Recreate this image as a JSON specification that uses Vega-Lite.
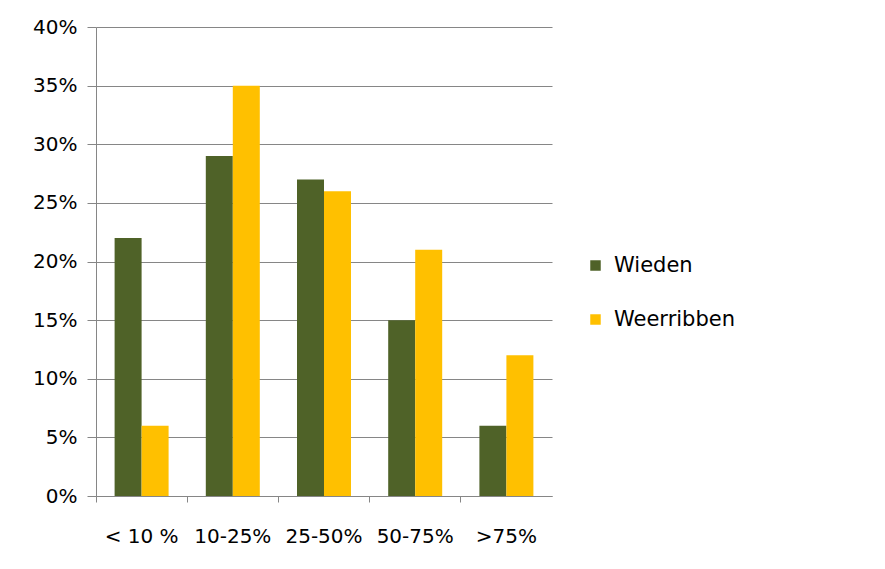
{
  "$schema": "https://vega.github.io/schema/vega-lite/v6.json",
  "width": 456,
  "height": 469,
  "autosize": {"type": "none"},
  "padding": {"left": 96, "top": 27, "right": 333, "bottom": 73},
  "background": "white",
  "data": {
    "values": [
      {"klasse": "< 10 %", "gebied": "Wieden", "aandeel": 0.22},
      {"klasse": "< 10 %", "gebied": "Weerribben", "aandeel": 0.06},
      {"klasse": "10-25%", "gebied": "Wieden", "aandeel": 0.29},
      {"klasse": "10-25%", "gebied": "Weerribben", "aandeel": 0.35},
      {"klasse": "25-50%", "gebied": "Wieden", "aandeel": 0.27},
      {"klasse": "25-50%", "gebied": "Weerribben", "aandeel": 0.26},
      {"klasse": "50-75%", "gebied": "Wieden", "aandeel": 0.15},
      {"klasse": "50-75%", "gebied": "Weerribben", "aandeel": 0.21},
      {"klasse": ">75%", "gebied": "Wieden", "aandeel": 0.06},
      {"klasse": ">75%", "gebied": "Weerribben", "aandeel": 0.12}
    ]
  },
  "mark": {"type": "bar"},
  "encoding": {
    "x": {
      "field": "klasse",
      "type": "nominal",
      "sort": null,
      "scale": {"paddingInner": 0, "paddingOuter": 0},
      "axis": {
        "title": null,
        "labelAngle": 0,
        "bandPosition": 0,
        "labelFont": "DejaVu Sans",
        "labelFontSize": 20,
        "labelColor": "#000000",
        "labelPadding": 24,
        "tickSize": 6,
        "tickColor": "#868686",
        "domainColor": "#868686",
        "grid": false
      }
    },
    "xOffset": {
      "field": "gebied",
      "type": "nominal",
      "sort": ["Wieden", "Weerribben"],
      "scale": {"paddingInner": 0, "paddingOuter": 0.689}
    },
    "y": {
      "field": "aandeel",
      "type": "quantitative",
      "scale": {"domain": [0, 0.4], "nice": false},
      "axis": {
        "title": null,
        "format": ".0%",
        "values": [0, 0.05, 0.1, 0.15, 0.2, 0.25, 0.3, 0.35, 0.4],
        "labelFont": "DejaVu Sans",
        "labelFontSize": 20,
        "labelColor": "#000000",
        "labelPadding": 10,
        "tickSize": 9,
        "tickColor": "#868686",
        "domainColor": "#868686",
        "gridColor": "#868686",
        "grid": true
      }
    },
    "color": {
      "field": "gebied",
      "type": "nominal",
      "sort": ["Wieden", "Weerribben"],
      "scale": {"domain": ["Wieden", "Weerribben"], "range": ["#4F6228", "#FFC000"]},
      "legend": {
        "title": null,
        "orient": "none",
        "legendX": 489,
        "legendY": 228,
        "symbolType": "square",
        "symbolSize": 110,
        "symbolStrokeWidth": 0,
        "labelFont": "DejaVu Sans",
        "labelFontSize": 21,
        "labelColor": "#000000",
        "labelOffset": 8,
        "rowPadding": 32
      }
    }
  },
  "config": {"view": {"stroke": null}}
}
